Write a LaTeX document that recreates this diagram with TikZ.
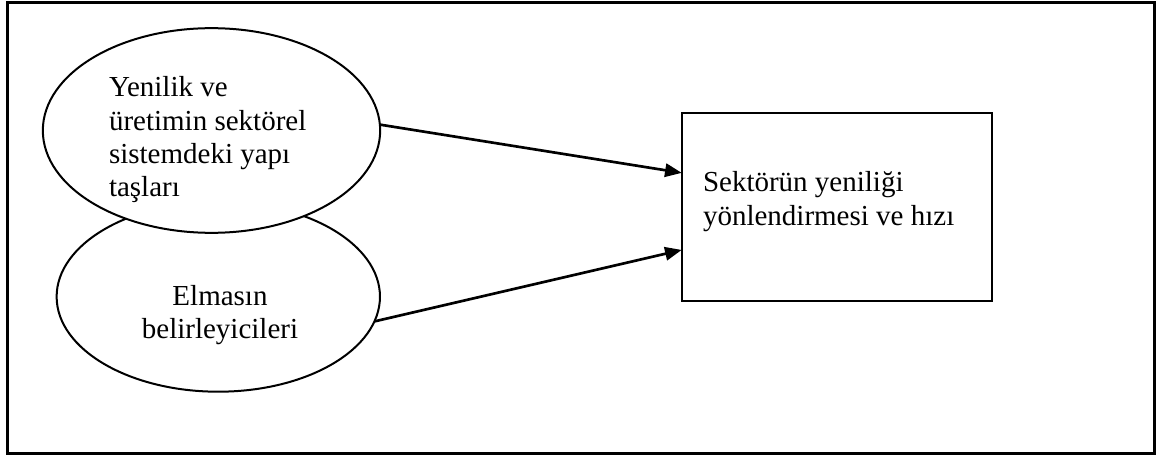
\documentclass[tikz,border=0pt]{standalone}
\usepackage{fontspec}
\setmainfont{Liberation Serif}
\usetikzlibrary{shapes.geometric,arrows.meta,calc}
\begin{document}
\begin{tikzpicture}[x=0.75pt,y=-0.75pt,
  label/.style={font=\fontsize{21.75}{25.1}\selectfont,inner sep=0pt,outer sep=0pt},
  bubble/.style={ellipse,draw,fill=white,line width=1.5pt,inner sep=0pt,outer sep=0pt},
  goalbox/.style={rectangle,draw,line width=1.5pt,inner sep=0pt,outer sep=0pt},
  conn/.style={line width=2pt,-{Triangle[length=12.5pt,width=10pt]}},
  frame/.style={line width=2.25pt}]
  \useasboundingbox (0,0) rectangle (1157,456);
  % outer frame
  \draw[frame] (7,3) rectangle (1154,453);
  % lower ellipse first, the upper one overlaps it
  \node[bubble,minimum width=242.5pt,minimum height=142.5pt] (e2) at (218.3,296.7) {};
  \node[bubble,minimum width=253pt,minimum height=153.5pt] (e1) at (211.5,130.5) {};
  % target box
  \node[goalbox,minimum width=232.7pt,minimum height=141pt] (box) at (836.85,206.7) {};
  % texts (base anchor sits on the last line)
  \node[label,align=left,anchor=base west] (t1) at (109,197)
    {Yenilik ve\\üretimin sektörel\\sistemdeki yapı\\taşları};
  \node[label,align=center,anchor=base] (t2) at (220,338.5)
    {Elmasın\\belirleyicileri};
  \node[label,align=left,anchor=base west] (t3) at (703,225)
    {Sektörün yeniliği\\yönlendirmesi ve hızı};
  % connectors
  \draw[conn] (e1.2) -- ($(box.north west)!0.32!(box.south west)$);
  \draw[conn] (e2.-9) -- ($(box.north west)!0.73!(box.south west)$);
\end{tikzpicture}
\end{document}
